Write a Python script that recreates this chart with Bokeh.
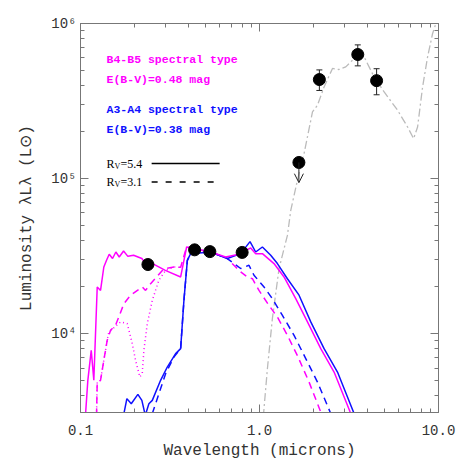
from bokeh.plotting import figure
from bokeh.models import (LogAxis, FixedTicker, Label, ColumnDataSource, Whisker,
                          TeeHead, Arrow, OpenHead, Range1d, CustomJSTickFormatter)
from bokeh.embed import file_html
from bokeh.resources import INLINE

# ---------------- data ----------------
# B4-B5 star, Rv = 5.4 (solid magenta)
b_rv54_wl = [0.1066, 0.1099, 0.1148, 0.1187, 0.1240, 0.1294, 0.1350, 0.1398, 0.1447, 0.1510,
             0.1576, 0.1646, 0.1740, 0.1839, 0.1979, 0.2202, 0.2349, 0.2528, 0.2977, 0.3626,
             0.3916, 0.4302, 0.5334, 0.647, 0.768, 0.8929, 0.9521, 1.038, 1.205, 1.371,
             1.594, 1.853, 2.199, 2.61, 3.236]
b_rv54_L = [2970, 5000, 7800, 5000, 20000, 19000, 26900, 29700, 32500, 30500,
            33600, 31200, 34100, 31500, 32000, 30500, 27600, 28300, 25600, 23200,
            36200, 35300, 33600, 31200, 32500, 35700, 32800, 32800, 28300, 23200,
            16800, 11900, 8000, 5650, 3050]

# B4-B5 star, Rv = 3.1 (dashed magenta)
b_rv31_wl = [0.1229, 0.1240, 0.1294, 0.1350, 0.1410, 0.1472, 0.1569, 0.1637, 0.1747, 0.1904,
             0.2213, 0.2309, 0.2464, 0.2924, 0.3325, 0.3626, 0.3916, 0.4302, 0.5334, 0.6612,
             0.7358, 0.785, 0.8556, 0.9127, 0.9936, 1.130, 1.259, 1.432, 1.629, 1.892, 2.199]
b_rv31_L = [2970, 4870, 5000, 6730, 9060, 10500, 11300, 12800, 15600, 17700,
            20000, 19000, 21000, 26200, 26900, 26800, 36200, 35300, 33600, 30500,
            26900, 25000, 23200, 22600, 19000, 15200, 12800, 9750, 7210, 4870, 3120]

# B4-B5 star, other extinction curve (dotted magenta)
b_alt_wl = [0.1229, 0.1240, 0.1294, 0.1350, 0.1410, 0.1439, 0.1674, 0.1825, 0.1946, 0.2030,
            0.2146, 0.2213, 0.2260, 0.2361, 0.2518, 0.2741, 0.2988, 0.3325, 0.3626]
b_alt_L = [2970, 4870, 5000, 6730, 9060, 10200, 11900, 11600, 8620, 6730,
           5250, 5520, 7800, 11600, 16400, 22100, 25600, 26900, 26800]

# A3-A4 star, Rv = 5.4 (solid blue)
a_rv54_wl = [0.1740, 0.1816, 0.1921, 0.2092, 0.2202, 0.2301, 0.241, 0.2518, 0.2802, 0.3054,
             0.3400, 0.3626, 0.3783, 0.3953, 0.4123, 0.5334, 0.6612, 0.785, 0.8851, 0.9521,
             1.038, 1.155, 1.259, 1.432, 1.663, 1.934, 2.295, 2.727, 3.377]
a_rv54_L = [2970, 3810, 3530, 4060, 3710, 2970, 3530, 3710, 5000, 6090,
            7430, 8000, 16400, 29700, 32800, 33600, 30500, 32800, 39200, 33600,
            36200, 32000, 28300, 22600, 17700, 11900, 8000, 5650, 3050]

# A3-A4 star, Rv = 3.1 (dashed blue)
a_rv31_wl = [0.2518, 0.2627, 0.2988, 0.3325, 0.3626, 0.3783, 0.3953, 0.4123, 0.5334, 0.6612,
             0.785, 0.8735, 0.9316, 1.060, 1.180, 1.343, 1.560, 1.813, 2.108, 2.501]
a_rv31_L = [3050, 3530, 5520, 7060, 8000, 16400, 29700, 32800, 33600, 30500,
            26300, 27600, 23800, 20000, 16800, 13100, 9750, 6900, 4870, 3050]

# dust emission model (grey dash-dot)
dust_wl = [1.05, 1.107, 1.18, 1.286, 1.432, 1.495, 1.629, 1.774, 1.977, 2.108,
           2.295, 2.557, 2.784, 3.034, 3.377, 3.842, 4.370, 4.970, 5.905, 6.720,
           7.257, 7.641, 8.150, 8.690, 9.27, 9.67, 10.0]
dust_L = [2900, 5940, 12500, 26300, 43000, 62400, 97500, 145000, 269000, 297000,
          390000, 513000, 505000, 525000, 594000, 609000, 452000, 362000, 276000, 215000,
          181000, 215000, 390000, 609000, 862000, 1000000, 1100000]

# photometry
opt_wl = [0.238, 0.434, 0.528, 0.80]
opt_L = [27900, 34700, 33800, 33400]
ir_wl = [2.16, 3.54, 4.51]
ir_L = [435000, 631000, 428000]
ir_lo = [370000, 533000, 347000]
ir_hi = [502000, 728000, 511000]
ul_wl = [1.66]
ul_L = [127000]

x_ticks = [0.1, 1.0, 10.0]
x_tick_labels = ["0.1", "1.0", "10.0"]
y_ticks = [1e3, 1e4, 1e5, 1e6]
y_tick_labels = ["10\u00b3", "10\u2074", "10\u2075", "10\u2076"]

MAG = "#FF00FF"
BLUE = "#1010FF"
GREY = "#BBBBBB"
AXC = "#777777"


def minors(decades):
    return [m * d for d in decades for m in range(2, 10)]


x_ticker = FixedTicker(ticks=x_ticks, minor_ticks=minors(x_ticks))
y_ticker = FixedTicker(ticks=y_ticks, minor_ticks=minors(y_ticks))

# ---------------- figure ----------------
p = figure(width=471, height=471, x_axis_type="log", y_axis_type="log",
           x_range=Range1d(0.1, 10), y_range=Range1d(3100, 1e6),
           output_backend="svg", toolbar_location=None,
           min_border_left=80, min_border_right=33, min_border_top=23, min_border_bottom=59)
p.grid.visible = False
p.outline_line_color = AXC
p.background_fill_color = "white"

FONT = "Liberation Mono"


def style_axis(ax, ticker):
    ax.ticker = ticker
    ax.axis_line_color = AXC
    ax.major_tick_line_color = AXC
    ax.minor_tick_line_color = AXC
    ax.major_tick_in = 8
    ax.major_tick_out = 0
    ax.minor_tick_in = 4
    ax.minor_tick_out = 0


xa = p.below[0]
ya = p.left[0]
style_axis(xa, x_ticker)
style_axis(ya, y_ticker)
xa.major_label_overrides = dict(zip(x_ticks, x_tick_labels))
ya.major_label_overrides = dict(zip(y_ticks, y_tick_labels))
for ax in (xa, ya):
    ax.major_label_text_font = FONT
    ax.major_label_text_font_size = "14px"
    ax.major_label_text_color = "#333333"
    ax.axis_label_text_font = FONT
    ax.axis_label_text_font_size = "16px"
    ax.axis_label_text_font_style = "normal"
    ax.axis_label_text_color = "#333333"
xa.major_label_standoff = 12
xa.axis_label = "Wavelength (microns)"
xa.axis_label_standoff = 4
ya.major_label_standoff = 4
ya.axis_label = "Luminosity \u03bbL\u03bb (L\u2299)"
ya.axis_label_standoff = 12

blank = CustomJSTickFormatter(code="return ''")
for loc, tk in (("right", y_ticker), ("above", x_ticker)):
    ax = LogAxis(formatter=blank, major_label_standoff=0)
    style_axis(ax, tk)
    p.add_layout(ax, loc)

# ---------------- curves ----------------
p.line(dust_wl, dust_L, line_color=GREY, line_width=1.3, line_dash="8 3 2 3")
p.line(b_alt_wl, b_alt_L, line_color=MAG, line_width=1.5, line_dash="1 3")
p.line(b_rv31_wl, b_rv31_L, line_color=MAG, line_width=1.5, line_dash="7 5")
p.line(a_rv31_wl, a_rv31_L, line_color=BLUE, line_width=1.5, line_dash="7 5")
p.line(a_rv54_wl, a_rv54_L, line_color=BLUE, line_width=1.5)
p.line(b_rv54_wl, b_rv54_L, line_color=MAG, line_width=1.5)

# ---------------- photometry ----------------
ir_src = ColumnDataSource(dict(x=ir_wl, y=ir_L, lo=ir_lo, hi=ir_hi))
p.add_layout(Whisker(source=ir_src, base="x", lower="lo", upper="hi",
                     line_color="#222222", line_width=1,
                     upper_head=TeeHead(size=6, line_color="#222222", line_width=1),
                     lower_head=TeeHead(size=6, line_color="#222222", line_width=1)))
ul_src = ColumnDataSource(dict(x=ul_wl, y=ul_L, y1=[v / 1.35 for v in ul_L]))
p.add_layout(Arrow(source=ul_src, x_start="x", y_start="y", x_end="x", y_end="y1",
                   line_color="#222222", line_width=1,
                   end=OpenHead(size=9, line_color="#222222", line_width=1)))
p.scatter(opt_wl + ir_wl + ul_wl, opt_L + ir_L + ul_L, size=12, color="black")

# ---------------- annotations ----------------
tx = 0.1398
notes = [("B4-B5 spectral type", 5.886e5, MAG),
         ("E(B-V)=0.48 mag", 4.37e5, MAG),
         ("A3-A4 spectral type", 2.771e5, BLUE),
         ("E(B-V)=0.38 mag", 2.08e5, BLUE)]
for t, yy, c in notes:
    p.add_layout(Label(x=tx, y=yy, text=t, text_color=c, text_font=FONT,
                       text_font_size="11.5px", text_font_style="bold",
                       text_baseline="middle"))

SERIF = "Liberation Serif"
for val, yy, dash in (("5.4", 1.25e5, None), ("3.1", 9.51e4, "6 8")):
    p.add_layout(Label(x=tx, y=yy, text="R", text_font=SERIF, text_font_size="12px",
                       text_baseline="middle", text_color="black"))
    p.add_layout(Label(x=tx, y=yy, x_offset=8, y_offset=-3, text="V", text_font=SERIF,
                       text_font_size="8px", text_baseline="middle", text_color="black"))
    p.add_layout(Label(x=tx, y=yy, x_offset=14, text="=" + val, text_font=SERIF,
                       text_font_size="12px", text_baseline="middle", text_color="black"))
    kw = dict(line_color="black", line_width=1.5)
    if dash:
        kw["line_dash"] = dash
    p.line([0.2497, 0.5989], [yy, yy], **kw)

open("out.html", "w").write(file_html(p, INLINE))
